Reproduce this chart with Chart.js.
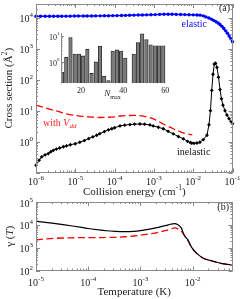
<!DOCTYPE html>
<html><head><meta charset="utf-8">
<script src="https://cdn.jsdelivr.net/npm/chart.js@4"></script>
<style>
html,body{margin:0;padding:0;background:#fff;width:240px;height:299px;overflow:hidden}
canvas{position:absolute;left:0;top:0;width:240px;height:299px}
</style></head><body>
<canvas id="top" width="240" height="299"></canvas>
<canvas id="inset" width="240" height="299"></canvas>
<canvas id="bot" width="240" height="299"></canvas>
<script>
// ---------- Panel (a): cross sections vs collision energy ----------
const elasticE = [1.0e-6,1.3e-6,1.7e-6,2.2e-6,2.8e-6,3.6e-6,4.5e-6,5.8e-6,7.4e-6,9.5e-6,1.2e-5,1.6e-5,2.0e-5,2.6e-5,3.3e-5,4.3e-5,5.5e-5,7.0e-5,9.0e-5,1.15e-4,1.5e-4,1.9e-4,2.4e-4,3.1e-4,4.0e-4,5.1e-4,6.5e-4,8.4e-4,1.08e-3,1.4e-3,1.8e-3,2.3e-3,2.9e-3,3.7e-3,4.8e-3,6.1e-3,7.8e-3,1.0e-2,1.25e-2,1.5e-2,1.8e-2,2.1e-2,2.5e-2,2.9e-2,3.3e-2,3.8e-2,4.3e-2,4.8e-2,5.4e-2,6.0e-2,6.7e-2,7.4e-2,8.2e-2,9.1e-2,1.0e-1];
const elasticS = [11200,11200,11250,11250,11300,11300,11300,11350,11350,11400,11400,11450,11500,11500,11550,11600,11650,11700,11750,11800,11900,12000,12100,12200,12300,12400,12500,12600,12700,12900,13000,13000,13000,12900,12800,12700,12600,12500,12400,12200,11600,10700,9900,9100,8300,7500,6800,6100,5300,4500,3800,3200,2600,2100,1700];

const inelE = [1.0e-6,1.2e-6,1.4e-6,1.7e-6,2.06e-6,2.4e-6,2.75e-6,3.3e-6,4.0e-6,5.0e-6,6.0e-6,7.5e-6,1.0e-5,1.3e-5,1.7e-5,2.2e-5,2.8e-5,3.5e-5,4.2e-5,5.5e-5,7.0e-5,8.5e-5,1.0e-4,1.37e-4,1.8e-4,2.46e-4,3.2e-4,4.4e-4,5.8e-4,7.9e-4,9.6e-4,1.3e-3,1.73e-3,2.3e-3,3.1e-3,4.2e-3,5.6e-3,7.2e-3,8.5e-3,9.2e-3,1.05e-2,1.25e-2,1.48e-2,1.8e-2,2.24e-2,2.52e-2,2.75e-2,2.96e-2,3.19e-2,3.44e-2,3.69e-2,4.03e-2,4.4e-2,4.81e-2,5.25e-2,5.73e-2,6.44e-2,7.24e-2,8.15e-2,9.16e-2,1.0e-1];
const inelS = [0.17,0.25,0.32,0.37,0.41,0.47,0.52,0.57,0.62,0.68,0.73,0.79,0.85,0.95,1.08,1.25,1.42,1.6,1.8,2.1,2.4,2.6,2.8,3.2,3.4,3.55,3.65,3.7,3.65,3.45,3.2,2.9,2.6,2.15,1.78,1.45,1.23,1.02,0.92,0.89,0.88,0.9,0.95,1.15,1.6,3.5,10,45,150,320,340,250,120,48,24,15,10,7.2,5.5,4.5,3.8];

const vddE = [1e-6,1.5e-6,2.3e-6,3.5e-6,6e-6,1e-5,1.6e-5,2.6e-5,4.2e-5,7e-5,1e-4,1.4e-4,2e-4,3e-4,4.2e-4,5.5e-4,7.5e-4,9.7e-4,1.3e-3,1.73e-3,2.3e-3,3.1e-3,4.2e-3,5.6e-3,7.5e-3,9.5e-3];
const vddS = [15,13,11,9.6,7.9,7.0,6.5,6.2,6.0,6.1,6.3,6.7,6.9,7.0,6.9,6.6,6.1,5.4,4.5,3.7,3.1,2.6,2.2,1.9,1.75,1.65];

const topXTicks = [1e-6,1e-5,1e-4,1e-3,1e-2,1e-1];
const topXExp = ['-6','-5','-4','-3','-2','-1'];
const topYTicks = [1,10,100,1000,10000];
const topYExp = ['0','1','2','3','4'];

// ---------- Inset: bars vs N_max ----------
const nmax = [11,13,15,17,19,21,23,25,27,29,31,33,35,37,39,41,43,45,47,49,51,53,55,57,59];
const nmaxVal = [0.4,1.5,8.6,2.0,2.0,1.7,3.1,0.36,1.0,4.1,0.28,0.19,2.6,2.9,2.6,1.4,null,2.0,5.5,12,7.2,4.6,4.2,4.2,4.2];
const insetXTicks = [20,40,60];
const insetYTicks = [1,10];
const insetYExp = ['0','1'];

// ---------- Panel (b): gamma(T) vs temperature ----------
const tempT = [1e-5,1.5e-5,2.2e-5,3.3e-5,5e-5,7.5e-5,1e-4,1.5e-4,2.2e-4,3.3e-4,5e-4,7.5e-4,1e-3,1.5e-3,2.2e-3,3e-3,3.8e-3,4.5e-3,5.2e-3,6e-3,7e-3,8e-3,9.5e-3,1.2e-2,1.6e-2,2.1e-2,2.8e-2,3.7e-2,4.7e-2,5.8e-2];
const gammaNo = [14500,12800,11500,10200,8900,7700,6900,6100,5500,5150,5000,5200,5600,6500,7800,9200,10600,11200,10200,7500,3300,2300,1050,560,345,280,235,200,185,176];
const gammaVdd = [2200,2400,2550,2650,2700,2750,2750,2750,2800,2850,3000,3250,3500,4000,4700,5600,6500,7300,6600,5400,3300,2200,1050,560,345,280,235,200,185,176];

const botXTicks = [1e-5,1e-4,1e-3,1e-2];
const botXExp = ['-5','-4','-3','-2'];
const botYTicks = [100,1000,10000,100000];
const botYExp = ['2','3','4','5'];

// ---------- drawing helpers ----------
const SERIF = '"Liberation Serif","DejaVu Serif",serif';
const FRAME = '#8a8a8a';
const TXT = '#222';

function runsWidth(ctx, runs){
  let w=0; for(const r of runs){ ctx.font=(r.it?'italic ':'')+r.sz+'px '+SERIF; w+=ctx.measureText(r.t).width; } return w;
}
function drawRuns(ctx, runs, x, y, align, color){
  const w = runsWidth(ctx, runs);
  let cx = align==='center' ? x-w/2 : align==='right' ? x-w : x;
  ctx.textBaseline='middle'; ctx.textAlign='left';
  for(const r of runs){
    ctx.font=(r.it?'italic ':'')+r.sz+'px '+SERIF;
    ctx.fillStyle = r.c || color || TXT;
    ctx.fillText(r.t, cx, y+(r.dy||0));
    cx += ctx.measureText(r.t).width;
  }
}
function pow10(exp, fs){ return [{t:'10',sz:fs},{t:exp,sz:Math.round(fs*0.68),dy:-fs*0.42}]; }
function logTicks(min,max){
  const out=[];
  for(let d=Math.floor(Math.log10(min)); d<=Math.ceil(Math.log10(max)); d++){
    for(let m=1;m<=9;m++){ const v=m*Math.pow(10,d); if(v>=min*0.999 && v<=max*1.001) out.push({v, major:m===1}); }
  }
  return out;
}
function drawFrameTicks(chart, both){
  const ctx=chart.ctx, a=chart.chartArea, xs=chart.scales.x, ys=chart.scales.y;
  ctx.save();
  ctx.strokeStyle=FRAME; ctx.lineWidth=1;
  ctx.strokeRect(Math.round(a.left)+0.5, Math.round(a.top)+0.5, Math.round(a.right-a.left)-1, Math.round(a.bottom-a.top)-1);
  ctx.beginPath();
  for(const t of logTicks(xs.min, xs.max)){
    const p=Math.round(xs.getPixelForValue(t.v))+0.5, L=t.major?4:2;
    ctx.moveTo(p,a.bottom); ctx.lineTo(p,a.bottom-L);
    if(both){ ctx.moveTo(p,a.top); ctx.lineTo(p,a.top+L); }
  }
  for(const t of logTicks(ys.min, ys.max)){
    const p=Math.round(ys.getPixelForValue(t.v))+0.5, L=t.major?4:2;
    ctx.moveTo(a.left,p); ctx.lineTo(a.left+L,p);
    if(both){ ctx.moveTo(a.right,p); ctx.lineTo(a.right-L,p); }
  }
  ctx.stroke();
  ctx.restore();
}

const topDeco = {
  id:'topDeco',
  afterDatasetsDraw(chart){
    const ctx=chart.ctx, a=chart.chartArea, xs=chart.scales.x, ys=chart.scales.y;
    drawFrameTicks(chart, true);
    ctx.save();
    topXTicks.forEach((v,i)=>drawRuns(ctx, pow10(topXExp[i],10), xs.getPixelForValue(v), 182, 'center'));
    topYTicks.forEach((v,i)=>drawRuns(ctx, pow10(topYExp[i],10), 33, ys.getPixelForValue(v)+2, 'right'));
    drawRuns(ctx, [{t:'Collision energy (cm',sz:11},{t:'-1',sz:7.5,dy:-4.5},{t:')',sz:11}], (a.left+a.right)/2, 192.5, 'center');
    ctx.save(); ctx.translate(9.5,(a.top+a.bottom)/2); ctx.rotate(-Math.PI/2);
    drawRuns(ctx, [{t:'Cross section (\u00C5',sz:11},{t:'2',sz:7.5,dy:-4.5},{t:')',sz:11}], 0, 0, 'center');
    ctx.restore();
    drawRuns(ctx, [{t:'(a)',sz:10}], 230, 8.5, 'right');
    drawRuns(ctx, [{t:'elastic',sz:10}], 181.5, 24, 'left', '#1010ff');
    drawRuns(ctx, [{t:'inelastic',sz:10}], 177, 152, 'left', '#111');
    drawRuns(ctx, [{t:'with ',sz:10},{t:'V',sz:10,it:true},{t:'dd',sz:7,it:true,dy:3}], 43, 123, 'left', '#ff2020');
    ctx.restore();
  }
};

const insetDeco = {
  id:'insetDeco',
  afterDatasetsDraw(chart){
    const ctx=chart.ctx, a=chart.chartArea, xs=chart.scales.x, ys=chart.scales.y;
    ctx.save();
    ctx.strokeStyle=FRAME; ctx.lineWidth=1;
    ctx.beginPath();
    ctx.moveTo(Math.round(a.left)+0.5, a.top); ctx.lineTo(Math.round(a.left)+0.5, a.bottom);
    for(const t of logTicks(ys.min, ys.max)){
      const p=Math.round(ys.getPixelForValue(t.v))+0.5, L=t.major?3:1.5;
      ctx.moveTo(a.left,p); ctx.lineTo(a.left+L,p);
    }
    ctx.stroke();
    insetYTicks.forEach((v,i)=>drawRuns(ctx, pow10(insetYExp[i],8), 59.5, ys.getPixelForValue(v)+1.5, 'right'));
    insetXTicks.forEach(v=>drawRuns(ctx, [{t:String(v),sz:8}], xs.getPixelForValue(v), 91, 'center'));
    drawRuns(ctx, [{t:'N',sz:9,it:true},{t:'max',sz:6,dy:3}], 112.5, 94, 'center');
    ctx.restore();
  }
};

const botDeco = {
  id:'botDeco',
  afterDatasetsDraw(chart){
    const ctx=chart.ctx, a=chart.chartArea, xs=chart.scales.x, ys=chart.scales.y;
    drawFrameTicks(chart, true);
    ctx.save();
    botXTicks.forEach((v,i)=>drawRuns(ctx, pow10(botXExp[i],10), xs.getPixelForValue(v), 283, 'center'));
    botYTicks.forEach((v,i)=>drawRuns(ctx, pow10(botYExp[i],10), 33, ys.getPixelForValue(v)+2, 'right'));
    drawRuns(ctx, [{t:'Temperature (K)',sz:11}], (a.left+a.right)/2, 292.5, 'center');
    ctx.save(); ctx.translate(10,(a.top+a.bottom)/2); ctx.rotate(-Math.PI/2);
    drawRuns(ctx, [{t:'\u03B3 (',sz:11},{t:'T',sz:11,it:true},{t:')',sz:11}], 0, 0, 'center');
    ctx.restore();
    drawRuns(ctx, [{t:'(b)',sz:10}], 229, 207.5, 'right');
    ctx.restore();
  }
};

const common = {responsive:false, animation:false, events:[], plugins:{legend:{display:false}, tooltip:{enabled:false}}};
const xy = (xs, ys) => xs.map((x,i)=>({x, y:ys[i]}));

new Chart(document.getElementById('top'), {
  type:'line',
  data:{datasets:[
    {data:xy(vddE,vddS), borderColor:'#ff0000', borderWidth:1.3, borderDash:[7,3.5], pointRadius:0, cubicInterpolationMode:'monotone', clip:4},
    {data:xy(inelE,inelS), borderColor:'#000', backgroundColor:'#000', borderWidth:1, pointStyle:'rectRot', pointRadius:1.9, pointBorderWidth:0, clip:4},
    {data:xy(elasticE,elasticS), borderColor:'#0000ff', backgroundColor:'#0000ff', borderWidth:1.4, pointStyle:'circle', pointRadius:1.7, pointBorderWidth:0, clip:4}
  ]},
  options:{...common,
    layout:{padding:{left:36,right:7.5,top:1,bottom:299-172.5}},
    scales:{x:{type:'logarithmic',min:1e-6,max:1e-1,display:false}, y:{type:'logarithmic',min:0.1,max:2.8e4,display:false}}
  },
  plugins:[topDeco]
});

new Chart(document.getElementById('inset'), {
  type:'bar',
  data:{datasets:[{data:xy(nmax,nmaxVal), backgroundColor:'#7a7a7a', borderColor:'#262626', borderWidth:0.8, barThickness:3.5}]},
  options:{...common,
    layout:{padding:{left:61,right:240-166,top:33,bottom:299-83.3}},
    scales:{x:{type:'linear',min:10.5,max:60.3,offset:false,display:false}, y:{type:'logarithmic',min:0.15,max:13,display:false}}
  },
  plugins:[insetDeco]
});

new Chart(document.getElementById('bot'), {
  type:'line',
  data:{datasets:[
    {data:xy(tempT,gammaNo), borderColor:'#000', borderWidth:1.2, pointRadius:0, cubicInterpolationMode:'monotone'},
    {data:xy(tempT,gammaVdd), borderColor:'#ff0000', borderWidth:1.3, borderDash:[7,3.5], pointRadius:0, cubicInterpolationMode:'monotone'}
  ]},
  options:{...common,
    layout:{padding:{left:36,right:7.5,top:202,bottom:299-270.5}},
    scales:{x:{type:'logarithmic',min:1e-5,max:0.058,display:false}, y:{type:'logarithmic',min:100,max:1e5,display:false}}
  },
  plugins:[botDeco]
});
</script>
</body></html>
